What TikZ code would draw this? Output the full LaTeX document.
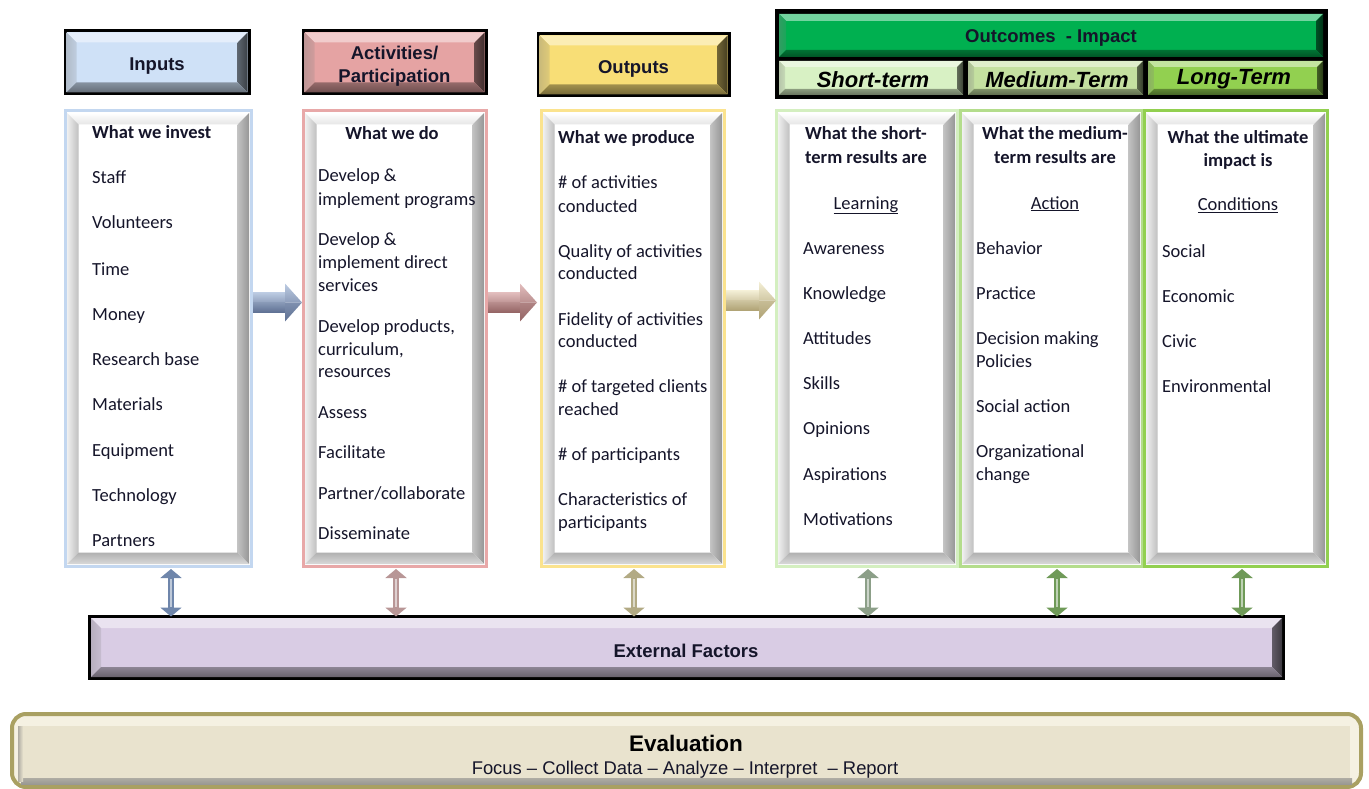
\documentclass[tikz,border=0pt]{standalone}
\usepackage{fontspec}
\setmainfont{Carlito}
\newfontfamily\headfont{Liberation Sans}
\usetikzlibrary{calc,arrows.meta}

% palette
\definecolor{txt}{HTML}{15152A}
\definecolor{inFace}{HTML}{CFE1F7}
\definecolor{inLine}{HTML}{C3D7F0}
\definecolor{actFace}{HTML}{E5A3A3}
\definecolor{actLine}{HTML}{E8A8A8}
\definecolor{outFace}{HTML}{F8DE76}
\definecolor{outLine}{HTML}{FBE38E}
\definecolor{ocFace}{HTML}{00B050}
\definecolor{stFace}{HTML}{D8F1C4}
\definecolor{stLine}{HTML}{D4EFC0}
\definecolor{mtFace}{HTML}{C4E0A0}
\definecolor{mtLine}{HTML}{B4DD8C}
\definecolor{ltFace}{HTML}{92D050}
\definecolor{ltLine}{HTML}{92D050}
\definecolor{exFace}{HTML}{D9CCE4}
\definecolor{evFace}{HTML}{E9E3CE}
\definecolor{evLight}{HTML}{F5F1E2}
\definecolor{evLine}{HTML}{A9A062}
\definecolor{arBlueL}{HTML}{BCCBE2}
\definecolor{arBlueD}{HTML}{5E7093}
\definecolor{arPinkL}{HTML}{E2BDBD}
\definecolor{arPinkD}{HTML}{946464}
\definecolor{arYelL}{HTML}{F4EFD6}
\definecolor{arYelD}{HTML}{AFA274}
\definecolor{vBlue}{HTML}{6F86AB}
\definecolor{vPink}{HTML}{B89696}
\definecolor{vTan}{HTML}{B2AA84}
\definecolor{vSage}{HTML}{8C9F88}
\definecolor{vGreen}{HTML}{6F9A58}

% four bevel facets inside a rectangular node
% #1 node, #2 inset, #3 facet width, #4 top, #5 left, #6 right, #7 bottom
\newcommand\bevel[7]{%
  \coordinate (bvA) at ($(#1.north west)+(#2pt,-#2pt)$);
  \coordinate (bvB) at ($(#1.north east)+(-#2pt,-#2pt)$);
  \coordinate (bvC) at ($(#1.south east)+(-#2pt,#2pt)$);
  \coordinate (bvD) at ($(#1.south west)+(#2pt,#2pt)$);
  \coordinate (bva) at ($(bvA)+(#3pt,-#3pt)$);
  \coordinate (bvb) at ($(bvB)+(-#3pt,-#3pt)$);
  \coordinate (bvc) at ($(bvC)+(-#3pt,#3pt)$);
  \coordinate (bvd) at ($(bvD)+(#3pt,#3pt)$);
  \path[#4] (bvA)--(bvB)--(bvb)--(bva)--cycle;
  \path[#5] (bvA)--(bva)--(bvd)--(bvD)--cycle;
  \path[#6] (bvB)--(bvC)--(bvc)--(bvb)--cycle;
  \path[#7] (bvD)--(bvd)--(bvc)--(bvC)--cycle;
}
% grey frame of the white column panels
\newcommand\panelbevel[1]{\bevel{#1}{2}{11.5}%
  {top color=white, bottom color=gray!20}%
  {left color=gray!12, right color=gray!50}%
  {left color=gray!48, right color=gray!82}%
  {top color=gray!62, bottom color=gray!30}}
% tinted frame of the coloured title boxes
\newcommand\titlebevel[4]{\bevel{#1}{#3}{#4}%
  {fill=#2!55!white}%
  {left color=#2!62!gray, right color=#2!80!gray}%
  {left color=#2!45!black, right color=#2!28!black}%
  {top color=#2!65!black, bottom color=#2!48!black}}

% block arrow between two panels: #1 start, #2 end, #3 light, #4 dark
\newcommand\blockarrow[4]{%
  \path[top color=#3, bottom color=#3!55!#4] let \p1=(#1), \p2=(#2) in
    (\x1,\y1+10pt) -- (\x2-17pt,\y1+10pt) -- (\x2-17pt,\y1) -- (\x1,\y1) -- cycle;
  \path[top color=#3!45!#4, bottom color=#4] let \p1=(#1), \p2=(#2) in
    (\x1,\y1) -- (\x2-17pt,\y1) -- (\x2-17pt,\y1-10pt) -- (\x1,\y1-10pt) -- cycle;
  \path[top color=#3, bottom color=#3!50!#4] let \p1=(#1), \p2=(#2) in
    (\x2-17pt,\y1+19pt) -- (\x2,\y1) -- (\x2-17pt,\y1) -- cycle;
  \path[top color=#3!35!#4, bottom color=#4] let \p1=(#1), \p2=(#2) in
    (\x2-17pt,\y1) -- (\x2,\y1) -- (\x2-17pt,\y1-19pt) -- cycle;
}

\tikzset{
  panel/.style={line width=3pt, fill=white, inner sep=0pt, outer sep=0pt,
    minimum height=455pt},
  titlebox/.style={draw=black, line width=3pt, inner sep=0pt, outer sep=0pt},
  titletext/.style={font=\headfont\bfseries\fontsize{18.5}{23}\selectfont,
    text=txt, align=center},
  subbox/.style={inner sep=0pt, outer sep=0pt, minimum height=34pt},
  subtext/.style={font=\headfont\bfseries\itshape\fontsize{22}{26}\selectfont,
    text=black},
  body/.style={font=\fontsize{18.5}{22.6}\selectfont, inner sep=0pt,
    anchor=base west, text=txt},
  bodyb/.style={font=\fontsize{18.5}{22.6}\selectfont\bfseries, inner sep=0pt,
    anchor=base, text=txt},
  vdbl/.style={line width=6pt,
    {Triangle[width=21pt,length=9pt]}-{Triangle[width=21pt,length=9pt]}},
  vshine/.style={line width=1.6pt, shorten <=10pt, shorten >=10pt}
}

\begin{document}
\begin{tikzpicture}[x=1pt,y=-1pt]
\useasboundingbox (0,0) rectangle (1369,789);

% ---------- title boxes ----------
\node[titlebox, fill=inFace, minimum width=184pt, minimum height=63pt]
  (inhead) at (157,62.5) {};
\node[titlebox, fill=actFace, minimum width=183pt, minimum height=63pt]
  (acthead) at (394.5,62.5) {};
\node[titlebox, fill=outFace, minimum width=191pt, minimum height=62pt]
  (outhead) at (633.5,65) {};
\titlebevel{inhead}{inFace}{1.5}{10}
\titlebevel{acthead}{actFace}{1.5}{10}
\titlebevel{outhead}{outFace}{1.5}{10}
\node[titletext] (inhead-t)  at ($(inhead)+(0,3.5)$)  {Inputs};
\node[titletext] (acthead-t) at ($(acthead)+(0,3.5)$) {Activities/\\Participation};
\node[titletext] (outhead-t) at ($(outhead)+(0,3.5)$) {Outputs};

% outcomes group
\node[draw=black, fill=black, line width=3pt, inner sep=0pt, outer sep=0pt,
  minimum width=550pt, minimum height=87pt] (ocgroup) at (1051,54.5) {};
\node[fill=ocFace, inner sep=0pt, outer sep=0pt, minimum width=544pt,
  minimum height=43pt] (ocbar) at (1051,35.5) {};
\titlebevel{ocbar}{ocFace}{0}{7}
\node[titletext] (ocbar-t) at ($(ocbar)+(0,2.5)$) {Outcomes~ - Impact};
\node[subbox, fill=stFace, minimum width=184pt] (sthead) at (871,78) {};
\node[subbox, fill=mtFace, minimum width=175pt] (mthead) at (1055.5,78) {};
\node[subbox, fill=ltFace, minimum width=175pt] (lthead) at (1235.5,78) {};
\titlebevel{sthead}{stFace}{0}{6}
\titlebevel{mthead}{mtFace}{0}{6}
\titlebevel{lthead}{ltFace}{0}{6}
\node[subtext] (sthead-t) at (873,80) {Short-term};
\node[subtext] (mthead-t) at (1057,80) {Medium-Term};
\node[subtext] (lthead-t) at (1234,79) {Long-Term};

% ---------- column panels ----------
\node[panel, draw=inLine,  minimum width=186pt] (inbox)    at (158,338.5) {};
\node[panel, draw=actLine, minimum width=183pt] (actbox)   at (394.5,338.5) {};
\node[panel, draw=outLine, minimum width=183pt] (outbox)   at (632.5,338.5) {};
\node[panel, draw=stLine,  minimum width=181pt] (shortbox) at (866.5,338.5) {};
\node[panel, draw=mtLine,  minimum width=182pt] (medbox)   at (1051,338.5) {};
\node[panel, draw=ltLine,  minimum width=183pt] (longbox)  at (1235.5,338.5) {};
\foreach \b in {inbox,actbox,outbox,shortbox,medbox,longbox}{\panelbevel{\b}}

% Inputs
\node[body, font=\fontsize{18.5}{22.6}\selectfont\bfseries] (in-h) at (92,139) {What we invest};
\foreach \y/\t [count=\i] in {184/Staff,229/Volunteers,275/Time,320/Money,
  365/Research base,410/Materials,456/Equipment,501/Technology,546/Partners}
  \node[body] (in-\i) at (92,\y) {\t};

% Activities
\node[bodyb] (act-h) at (392,140) {What we do};
\foreach \y/\t [count=\i] in {182/Develop \&,205/implement programs,
  245/Develop \&,268/implement direct,291/services,
  332/{Develop products,},355/{curriculum,},377/resources,
  418/Assess,458/Facilitate,499/{Partner/collaborate},539/Disseminate}
  \node[body] (act-\i) at (318,\y) {\t};

% Outputs
\node[body, font=\fontsize{18.5}{22.6}\selectfont\bfseries] (out-h) at (558,144) {What we produce};
\foreach \y/\t [count=\i] in {189/\# of activities,212/conducted,
  257/Quality of activities,279/conducted,
  325/Fidelity of activities,347/conducted,
  392/\# of targeted clients,415/reached,
  460/\# of participants,
  505/Characteristics of,528/participants}
  \node[body] (out-\i) at (558,\y) {\t};

% Short-term
\node[bodyb] (st-h1) at (866,140) {What the short-};
\node[bodyb] (st-h2) at (866,164) {term results are};
\node[body, anchor=base] (st-u) at (866,209) {\underline{Learning}};
\foreach \y/\t [count=\i] in {254/Awareness,299/Knowledge,344/Attitudes,
  389/Skills,434/Opinions,480/Aspirations,525/Motivations}
  \node[body] (st-\i) at (803,\y) {\t};

% Medium-term
\node[bodyb] (mt-h1) at (1055,140) {What the medium-};
\node[bodyb] (mt-h2) at (1055,164) {term results are};
\node[body, anchor=base] (mt-u) at (1055,209) {\underline{Action}};
\foreach \y/\t [count=\i] in {254/Behavior,299/Practice,344/Decision making,
  367/Policies,412/Social action,457/Organizational,480/change}
  \node[body] (mt-\i) at (976,\y) {\t};

% Long-term
\node[bodyb] (lt-h1) at (1238,144) {What the ultimate};
\node[bodyb] (lt-h2) at (1238,167) {impact is};
\node[body, anchor=base] (lt-u) at (1238,211) {\underline{Conditions}};
\foreach \y/\t [count=\i] in {257/Social,302/Economic,347/Civic,392/Environmental}
  \node[body] (lt-\i) at (1162,\y) {\t};

% ---------- arrows between panels ----------
\coordinate (a1s) at ($(inbox.east)+(2pt,36pt)$);
\coordinate (a1e) at ($(a1s -| actbox.west)+(-1pt,0)$);
\coordinate (a2s) at ($(actbox.east)+(2pt,36pt)$);
\coordinate (a2e) at ($(a2s -| outbox.west)+(-4pt,0)$);
\coordinate (a3s) at ($(outbox.east)+(2pt,38pt)$);
\coordinate (a3e) at ($(a3s -| shortbox.west)+(0pt,0)$);
\blockarrow{a1s}{a1e}{arBlueL}{arBlueD}
\blockarrow{a2s}{a2e}{arPinkL}{arPinkD}
\blockarrow{a3s}{a3e}{arYelL}{arYelD}

% ---------- external factors ----------
\node[titlebox, fill=exFace, minimum width=1194pt, minimum height=62pt]
  (ext) at (686.5,647.5) {};
\titlebevel{ext}{exFace}{1.5}{10}
\node[titletext] (ext-t) at (686,650.5) {External Factors};

% two-way links from each panel to the external factors bar
\foreach \b/\dx/\c [count=\i] in {inbox/13/vBlue,actbox/1.5/vPink,outbox/1.5/vTan,
  shortbox/1.5/vSage,medbox/6/vGreen,longbox/6.5/vGreen}{
  \coordinate (v\i t) at ($(\b.south)+(\dx pt,-3pt)$);
  \coordinate (v\i b) at (v\i t |- ext.north);
  \draw[vdbl, draw=\c, fill=\c] (v\i t) -- (v\i b);
  \draw[vshine, draw=\c!45!white] (v\i t) -- (v\i b);
}

% ---------- evaluation ----------
\node[draw=evLine, line width=4pt, rounded corners=14pt, fill=evLight,
  inner sep=0pt, outer sep=0pt, minimum width=1349pt, minimum height=73pt]
  (eval) at (686.5,750.5) {};
\path[top color=gray!55!evFace, bottom color=gray!75!evFace]
  ($(eval.south west)+(9pt,9pt)$) rectangle ($(eval.south east)+(-9pt,3pt)$);
\path[left color=gray!55!evFace, right color=evFace]
  ($(eval.north west)+(6pt,-12pt)$) rectangle ($(eval.south west)+(11pt,6pt)$);
\path[fill=evFace] ($(eval.north west)+(11pt,-12pt)$)
  rectangle ($(eval.south east)+(-11pt,9pt)$);
\node[font=\headfont\bfseries\fontsize{22.5}{26}\selectfont, text=black]
  (eval-t) at (686,743.5) {Evaluation};
\node[font=\headfont\fontsize{18.4}{22}\selectfont, text=txt]
  (eval-s) at (685,769.5) {Focus – Collect Data – Analyze – Interpret~ – Report};
\end{tikzpicture}
\end{document}
